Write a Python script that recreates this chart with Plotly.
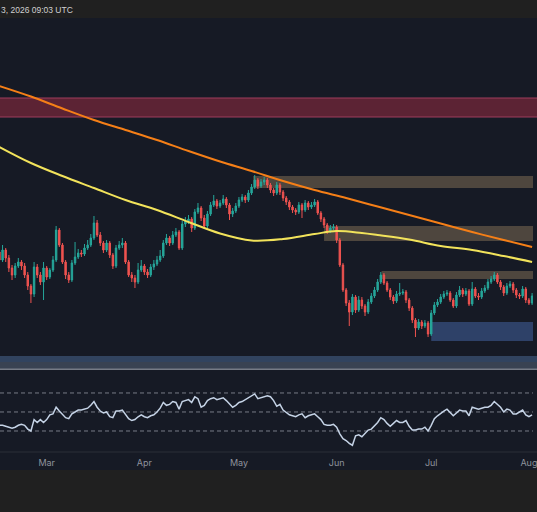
import pandas as pd
import plotly.graph_objects as go

# daily candles, Feb 14 -> Aug 2 2026
dates = pd.date_range("2026-02-14", periods=170, freq="D")

opens = [3480, 3400, 3500, 3420, 3320, 3250, 3340, 3380, 3340, 3250,
         3140, 3060, 3330, 3250, 3180, 3320, 3230, 3300, 3400, 3700,
         3550, 3380, 3250, 3200, 3370, 3430, 3470, 3460, 3520, 3550,
         3620, 3770, 3650, 3570, 3500, 3570, 3450, 3340, 3520, 3550,
         3570, 3380, 3250, 3220, 3180, 3300, 3340, 3280, 3250, 3330,
         3360, 3400, 3440, 3570, 3620, 3570, 3650, 3680, 3520, 3760,
         3790, 3810, 3720, 3880, 3920, 3820, 3740, 3860, 3950, 3990,
         3940, 3970, 4010, 3950, 3860, 3890, 3940, 4000, 4030, 4000,
         4070, 4130, 4200, 4140, 4180, 4200, 4150, 4100, 4070, 4150,
         4080, 4020, 3980, 3930, 3900, 3880, 3950, 3900, 3970, 3930,
         3950, 3980, 3870, 3810, 3750, 3690, 3720, 3730, 3600, 3350,
         3100, 2970, 2880, 3030, 2900, 3000, 2940, 2880, 2980, 3040,
         3100, 3180, 3250, 3170, 3100, 3030, 2990, 3060, 3070, 3080,
         3000, 2920, 2800, 2720, 2780, 2740, 2770, 2660, 2870, 2950,
         2980, 3030, 3060, 3070, 3000, 2940, 3050, 3100, 3060, 3090,
         2960, 3110, 3040, 3030, 3090, 3120, 3180, 3210, 3250, 3180,
         3130, 3070, 3140, 3160, 3100, 3050, 3040, 3110, 3000, 2970]

highs = [3520, 3550, 3520, 3450, 3350, 3370, 3420, 3400, 3370, 3280,
         3160, 3380, 3360, 3280, 3380, 3340, 3320, 3440, 3740, 3720,
         3570, 3400, 3280, 3400, 3580, 3510, 3500, 3560, 3600, 3660,
         3840, 3800, 3680, 3590, 3600, 3590, 3470, 3550, 3590, 3620,
         3590, 3400, 3280, 3250, 3370, 3400, 3360, 3310, 3360, 3400,
         3440, 3500, 3600, 3660, 3640, 3690, 3720, 3700, 3790, 3830,
         3850, 3830, 3910, 3970, 3940, 3850, 3890, 3980, 4050, 4010,
         4000, 4050, 4030, 3970, 3920, 3970, 4030, 4060, 4050, 4100,
         4160, 4250, 4220, 4210, 4230, 4220, 4170, 4120, 4180, 4170,
         4100, 4040, 4000, 3950, 3920, 3980, 3970, 4000, 3990, 3980,
         4010, 4000, 3890, 3830, 3770, 3750, 3760, 3750, 3620, 3370,
         3120, 3000, 3060, 3050, 3040, 3030, 2960, 3010, 3070, 3130,
         3210, 3280, 3270, 3190, 3120, 3050, 3090, 3170, 3110, 3100,
         3020, 2940, 2820, 2810, 2800, 2800, 2790, 2900, 2980, 3010,
         3060, 3090, 3100, 3090, 3020, 3080, 3140, 3120, 3120, 3110,
         3180, 3130, 3070, 3120, 3150, 3210, 3240, 3280, 3270, 3200,
         3150, 3170, 3190, 3180, 3120, 3070, 3140, 3130, 3020, 3070]

lows = [3370, 3380, 3380, 3280, 3200, 3220, 3320, 3300, 3220, 3100,
        2970, 3030, 3220, 3150, 3000, 3200, 3210, 3280, 3380, 3530,
        3360, 3210, 3170, 3180, 3350, 3410, 3430, 3440, 3500, 3530,
        3600, 3630, 3540, 3470, 3480, 3420, 3310, 3320, 3500, 3520,
        3360, 3230, 3180, 3120, 3160, 3280, 3250, 3220, 3230, 3300,
        3340, 3380, 3420, 3550, 3540, 3550, 3630, 3500, 3500, 3730,
        3760, 3680, 3700, 3860, 3790, 3710, 3720, 3840, 3930, 3910,
        3920, 3950, 3920, 3800, 3830, 3870, 3920, 3980, 3970, 3980,
        4050, 4110, 4110, 4120, 4150, 4120, 4070, 4040, 4050, 4050,
        3990, 3950, 3900, 3870, 3850, 3860, 3820, 3880, 3900, 3910,
        3930, 3850, 3780, 3720, 3660, 3670, 3700, 3570, 3330, 3080,
        2940, 2740, 2850, 2870, 2880, 2910, 2840, 2860, 2960, 3020,
        3080, 3160, 3150, 3080, 3000, 2960, 2970, 3040, 3050, 2970,
        2890, 2770, 2630, 2700, 2710, 2720, 2630, 2640, 2850, 2930,
        2960, 3010, 3040, 2980, 2920, 2920, 3030, 3030, 3040, 2940,
        2940, 3020, 3000, 3010, 3070, 3100, 3160, 3190, 3160, 3100,
        3040, 3050, 3120, 3070, 3020, 3010, 3020, 2970, 2950, 2950]

closes = [3400, 3500, 3420, 3320, 3250, 3340, 3380, 3340, 3250, 3140,
          3060, 3330, 3250, 3180, 3320, 3230, 3300, 3400, 3700, 3550,
          3380, 3250, 3200, 3370, 3430, 3470, 3460, 3520, 3550, 3620,
          3770, 3650, 3570, 3500, 3570, 3450, 3340, 3520, 3550, 3570,
          3380, 3250, 3220, 3180, 3300, 3340, 3280, 3250, 3330, 3360,
          3400, 3440, 3570, 3620, 3570, 3650, 3680, 3520, 3760, 3790,
          3810, 3720, 3880, 3920, 3820, 3740, 3860, 3950, 3990, 3940,
          3970, 4010, 3950, 3860, 3890, 3940, 4000, 4030, 4000, 4070,
          4130, 4200, 4140, 4180, 4200, 4150, 4100, 4070, 4150, 4080,
          4020, 3980, 3930, 3900, 3880, 3950, 3900, 3970, 3930, 3950,
          3980, 3870, 3810, 3750, 3690, 3720, 3730, 3600, 3350, 3100,
          2970, 2880, 3030, 2900, 3000, 2940, 2880, 2980, 3040, 3100,
          3180, 3250, 3170, 3100, 3030, 2990, 3060, 3070, 3080, 3000,
          2920, 2800, 2720, 2780, 2740, 2770, 2660, 2870, 2950, 2980,
          3030, 3060, 3070, 3000, 2940, 3050, 3100, 3060, 3090, 2960,
          3110, 3040, 3030, 3090, 3120, 3180, 3210, 3250, 3180, 3130,
          3070, 3140, 3160, 3100, 3050, 3040, 3110, 3000, 2970, 3040]

rsi = [36, 36, 35, 34, 33, 34, 36, 37, 36, 32,
       30, 42, 39, 42, 39, 42, 47, 48, 55, 51,
       47, 44, 43, 48, 50, 52, 52, 53, 54, 57,
       61, 55, 51, 49, 50, 45, 44, 51, 51, 52,
       48, 43, 41, 42, 45, 47, 45, 44, 46, 47,
       50, 54, 60, 57, 58, 61, 60, 53, 61, 62,
       63, 60, 66, 64, 55, 57, 62, 64, 65, 63,
       64, 65, 62, 58, 55, 57, 60, 61, 63, 65,
       67, 69, 64, 65, 66, 67, 66, 62, 56, 58,
       52, 49, 47, 46, 45, 47, 48, 44, 46, 47,
       48, 45, 42, 37, 36, 36, 37, 34, 27, 22,
       20, 17, 15, 25, 26, 24, 27, 31, 32, 35,
       39, 44, 42, 38, 35, 38, 41, 39, 39, 41,
       35, 31, 31, 32, 32, 34, 30, 36, 43, 46,
       49, 51, 53, 49, 46, 49, 52, 51, 51, 46,
       55, 54, 53, 54, 55, 55, 57, 61, 58, 55,
       50, 53, 52, 48, 48, 50, 52, 47, 45, 47]

# moving averages at sparse dates
ma_dates = ["2026-02-14", "2026-02-24", "2026-03-06", "2026-03-16", "2026-03-26",
            "2026-04-05", "2026-04-15", "2026-04-25", "2026-05-05", "2026-05-15",
            "2026-05-25", "2026-06-01", "2026-06-09", "2026-06-14", "2026-06-24",
            "2026-07-04", "2026-07-14", "2026-07-24", "2026-08-02"]
ma_fast = [4530, 4370, 4240, 4120, 4000, 3900, 3780, 3665, 3595, 3610,
           3660, 3690, 3670, 3650, 3605, 3540, 3500, 3440, 3380]
ma_slow_dates = ["2026-02-14", "2026-02-24", "2026-03-06", "2026-03-16", "2026-03-26",
                 "2026-04-05", "2026-04-15", "2026-04-25", "2026-05-05", "2026-05-15",
                 "2026-05-25", "2026-06-04", "2026-06-14", "2026-06-24", "2026-07-04",
                 "2026-07-14", "2026-07-24", "2026-08-02"]
ma_slow = [5140, 5035, 4915, 4800, 4700, 4600, 4490, 4385, 4290, 4190,
           4100, 4020, 3935, 3850, 3765, 3680, 3600, 3530]

# supply / demand zones: (start, low, high)
red_zone = (4830, 5020)
tan_zones = [("2026-05-05 12:00", 4120, 4240),
             ("2026-05-28 00:00", 3590, 3740),
             ("2026-06-15 06:00", 3210, 3290)]
blue_zone = ("2026-07-01 00:00", 2590, 2780)
base_zone = (2200, 2440)

month_ticks = ["2026-03-01", "2026-04-01", "2026-05-01", "2026-06-01", "2026-07-01", "2026-08-01"]
month_labels = ["Mar", "Apr", "May", "Jun", "Jul", "Aug"]

x_range = ["2026-02-14 04:30", "2026-08-02 07:00"]
x_end = "2026-08-20"

fig = go.Figure()

fig.add_trace(go.Scatter(x=ma_slow_dates, y=ma_slow, mode="lines",
                         line=dict(color="#f57f17", width=2, shape="spline"),
                         hoverinfo="skip", xaxis="x", yaxis="y"))
fig.add_trace(go.Scatter(x=ma_dates, y=ma_fast, mode="lines",
                         line=dict(color="#f2e35b", width=2, shape="spline"),
                         hoverinfo="skip", xaxis="x", yaxis="y"))

fig.add_trace(go.Candlestick(
    x=dates, open=opens, high=highs, low=lows, close=closes,
    increasing=dict(line=dict(color="#26a69a", width=1), fillcolor="#26a69a"),
    decreasing=dict(line=dict(color="#ef5350", width=1), fillcolor="#ef5350"),
    whiskerwidth=0, xaxis="x", yaxis="y"))

fig.add_trace(go.Scatter(x=dates, y=rsi, mode="lines",
                         line=dict(color="#c5d3e6", width=1.5),
                         hoverinfo="skip", xaxis="x", yaxis="y2"))

shapes = []
# dark chart background
shapes.append(dict(type="rect", xref="paper", yref="paper", x0=-0.01, x1=1.01, y0=-0.0415, y1=1,
                   fillcolor="#161a25", line_width=0, layer="below"))
# zones
shapes.append(dict(type="rect", xref="paper", yref="y", x0=-0.01, x1=1.01,
                   y0=red_zone[0], y1=red_zone[1], fillcolor="#5c2334",
                   line_width=0, layer="below"))
for edge in red_zone:
    shapes.append(dict(type="line", xref="paper", yref="y", x0=-0.01, x1=1.01,
                       y0=edge, y1=edge, line=dict(color="#9e3d5c", width=1), layer="below"))
for start, lo, hi in tan_zones:
    shapes.append(dict(type="rect", xref="x", yref="y", x0=start, x1=x_end,
                       y0=lo, y1=hi, fillcolor="#4e463e", line_width=0, layer="below"))
shapes.append(dict(type="rect", xref="x", yref="y", x0=blue_zone[0], x1=x_end,
                   y0=blue_zone[1], y1=blue_zone[2], fillcolor="#2e4168",
                   line_width=0, layer="below"))
shapes.append(dict(type="rect", xref="paper", yref="y", x0=-0.01, x1=1.01,
                   y0=base_zone[0], y1=base_zone[1], fillcolor="#31435f",
                   line_width=0, layer="below"))
shapes.append(dict(type="rect", xref="paper", yref="y", x0=-0.01, x1=1.01,
                   y0=base_zone[0], y1=2380, fillcolor="#394252",
                   line_width=0, layer="below"))
# pane separators
shapes.append(dict(type="line", xref="paper", yref="paper", x0=-0.01, x1=1.01, y0=0.1905, y1=0.1905,
                   line=dict(color="#767b86", width=1.5)))
shapes.append(dict(type="line", xref="paper", yref="paper", x0=-0.01, x1=1.01, y0=0, y1=0,
                   line=dict(color="#2a2e39", width=1)))
# RSI levels
for lvl in [70, 50, 30]:
    shapes.append(dict(type="line", xref="paper", yref="y2", x0=0, x1=1, y0=lvl, y1=lvl,
                       line=dict(color="#787b86", width=1, dash="4px,3px"), layer="below"))

fig.update_layout(
    width=537, height=512,
    margin=dict(l=0, r=0, t=18, b=60),
    paper_bgcolor="#202020",
    plot_bgcolor="rgba(0,0,0,0)",
    showlegend=False,
    shapes=shapes,
    boxgap=0.35,
    xaxis=dict(type="date", range=x_range, anchor="y2", rangeslider=dict(visible=False),
               showgrid=False, zeroline=False, showline=False, ticks="",
               tickvals=month_ticks, ticktext=month_labels,
               tickfont=dict(family="Inter", size=9, color="#8e929c"),
               ticklabelstandoff=4, ticklabeloverflow="allow"),
    yaxis=dict(domain=[0.1912, 1], range=[2310, 5820], visible=False, anchor="x"),
    yaxis2=dict(domain=[0, 0.189], range=[7.9, 94.2], visible=False, anchor="x"),
    annotations=[dict(text="3, 2026 09:03 UTC", xref="paper", yref="paper",
                      x=0, y=1.0185, xanchor="left", yanchor="middle",
                      xshift=-1, showarrow=False,
                      font=dict(family="Liberation Sans", size=8.5, color="#d0d0d0"))],
)

fig.write_html("out.html", config={"displayModeBar": False},
               post_script="document.documentElement.style.overflow='hidden';"
                           "document.body.style.margin='0';document.body.style.overflow='hidden';")
